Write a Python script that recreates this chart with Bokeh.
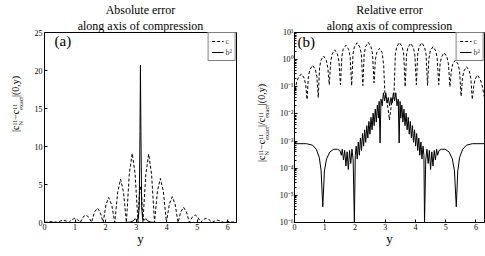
import math
from bokeh.plotting import figure
from bokeh.layouts import row
from bokeh.models import Label, FixedTicker, CustomJSTickFormatter, Range1d, Title, Div
from bokeh.embed import file_html
from bokeh.resources import INLINE

# ---------------- data ----------------
x_ticks = [0, 1, 2, 3, 4, 5, 6]
abs_y_ticks = [0, 5, 10, 15, 20, 25]
rel_y_ticks = [1e-6, 1e-5, 1e-4, 1e-3, 1e-2, 1e-1, 1e0, 1e1]

# (a) absolute error, series "c" (dashed)
abs_c_x = [0.0, 0.12, 0.24, 0.34, 0.43, 0.52, 0.61, 0.71, 0.80, 0.895,
           0.99, 1.08, 1.17, 1.26, 1.35, 1.45, 1.54, 1.635, 1.73, 1.825,
           1.92, 2.01, 2.10, 2.20, 2.30, 2.395, 2.49, 2.585, 2.68, 2.775,
           2.87, 2.965, 3.06, 3.10, 3.14, 3.18, 3.22, 3.315, 3.41, 3.505,
           3.60, 3.695, 3.79, 3.89, 3.99, 4.085, 4.18, 4.275, 4.37, 4.46,
           4.55, 4.645, 4.74, 4.835, 4.93, 5.02, 5.11, 5.20, 5.29, 5.385,
           5.48, 5.575, 5.67, 5.765, 5.86, 5.95, 6.04, 6.16, 6.2832]
abs_c_y = [0.02, 0.08, 0.12, 0.08, 0.01, 0.2, 0.3, 0.2, 0.01, 0.38,
           0.55, 0.38, 0.01, 0.7, 1.0, 0.7, 0.01, 1.35, 1.9, 1.35,
           0.01, 2.3, 3.3, 2.3, 0.01, 4.0, 5.7, 4.0, 0.02, 6.4,
           9.1, 6.4, 0.05, 3.5, 4.8, 3.5, 0.05, 6.3, 9.0, 6.3,
           0.02, 4.1, 5.8, 4.1, 0.01, 2.4, 3.4, 2.4, 0.01, 1.4,
           2.0, 1.4, 0.01, 0.7, 1.0, 0.7, 0.01, 0.38, 0.55, 0.38,
           0.01, 0.2, 0.3, 0.2, 0.01, 0.08, 0.12, 0.06, 0.02]

# (a) absolute error, series "b^2" (solid)
abs_b_x = [0.0, 2.6, 2.8, 2.9, 2.97, 3.02, 3.07, 3.10, 3.125, 3.14,
           3.155, 3.18, 3.21, 3.26, 3.31, 3.38, 3.48, 3.68, 6.2832]
abs_b_y = [0.0, 0.0, 0.05, 0.2, 0.5, 0.3, 0.6, 2.0, 12.0, 20.7,
           12.0, 2.0, 0.6, 0.3, 0.5, 0.2, 0.05, 0.0, 0.0]

# (b) relative error, series "c" (dashed)
rel_c_x = [0.0, 0.07, 0.13, 0.23, 0.32, 0.37, 0.415,
           0.46, 0.51, 0.60, 0.69, 0.74, 0.785,
           0.83, 0.875, 0.96, 1.05, 1.10, 1.15,
           1.20, 1.245, 1.33, 1.42, 1.47, 1.52,
           1.565, 1.61, 1.70, 1.79, 1.84, 1.89,
           1.935, 1.98, 2.07, 2.16, 2.21, 2.26,
           2.305, 2.35, 2.44, 2.53, 2.58, 2.63,
           2.675, 2.72, 2.81, 2.90, 2.95, 2.99,
           3.06, 3.14, 3.22, 3.29,
           3.335, 3.38, 3.47, 3.56, 3.61, 3.66,
           3.705, 3.75, 3.84, 3.93, 3.98, 4.03,
           4.075, 4.12, 4.21, 4.30, 4.35, 4.40,
           4.445, 4.49, 4.58, 4.67, 4.72, 4.77,
           4.815, 4.86, 4.95, 5.04, 5.09, 5.14,
           5.185, 5.23, 5.32, 5.41, 5.46, 5.51,
           5.555, 5.60, 5.69, 5.78, 5.83, 5.88,
           5.925, 5.97, 6.05, 6.14, 6.20, 6.2832]
rel_c_y = [0.05, 0.15, 0.22, 0.3, 0.21, 0.12, 0.034,
           0.24, 0.43, 0.62, 0.43, 0.24, 0.04,
           0.52, 0.95, 1.36, 0.95, 0.52, 0.12,
           0.87, 1.6, 2.3, 1.6, 0.87, 0.12,
           1.3, 2.4, 3.4, 2.4, 1.3, 0.11,
           1.6, 2.9, 4.2, 2.9, 1.6, 0.11,
           1.6, 3.0, 4.3, 3.0, 1.6, 0.14,
           1.0, 1.8, 2.6, 1.8, 0.6, 0.05,
           0.03, 0.006, 0.03, 0.05,
           1.6, 3.0, 4.3, 3.0, 1.6, 0.1,
           1.5, 2.8, 4.0, 2.8, 1.5, 0.12,
           1.6, 2.9, 4.2, 2.9, 1.6, 0.11,
           1.1, 2.1, 3.0, 2.1, 1.1, 0.12,
           0.7, 1.25, 1.8, 1.25, 0.7, 0.1,
           0.37, 0.68, 0.97, 0.68, 0.37, 0.045,
           0.21, 0.38, 0.55, 0.38, 0.21, 0.034,
           0.1, 0.19, 0.27, 0.19, 0.12, 0.04]

# (b) relative error, series "b^2" (solid)
rel_b_x = [0.00, 0.40, 0.60, 0.72, 0.82, 0.88, 0.935, 0.99, 1.06, 1.17,
           1.30, 1.42, 1.50, 1.55, 1.58, 1.62, 1.66, 1.70, 1.74, 1.78,
           1.82, 1.86, 1.90, 1.94, 1.98,
           2.01, 2.04, 2.075, 2.11, 2.145, 2.18, 2.215, 2.25, 2.285, 2.32,
           2.355, 2.39, 2.425, 2.46, 2.495, 2.53, 2.565, 2.60, 2.635, 2.67,
           2.705, 2.74, 2.775, 2.80, 2.83,
           2.86, 2.90, 2.94, 2.98, 3.02, 3.06, 3.10, 3.145, 3.19, 3.23,
           3.27, 3.31, 3.35, 3.39, 3.43, 3.46,
           3.49, 3.515, 3.55, 3.585, 3.62, 3.655, 3.69, 3.725, 3.76, 3.795,
           3.83, 3.865, 3.90, 3.935, 3.97, 4.005, 4.04, 4.075, 4.11, 4.145,
           4.18, 4.215, 4.25, 4.28, 4.30,
           4.34, 4.38, 4.42, 4.46, 4.50, 4.54, 4.58, 4.62, 4.66, 4.70,
           4.73, 4.78, 4.86, 4.98, 5.11, 5.22, 5.29, 5.35, 5.40, 5.46,
           5.56, 5.68, 5.88, 6.2832]
rel_b_y = [8e-4, 8e-4, 7e-4, 5e-4, 2.5e-4, 8e-5, 3.8e-6, 8e-5, 2.2e-4, 4e-4,
           5e-4, 5e-4, 4.5e-4, 3e-4, 5e-4, 2e-4, 4.5e-4, 1.2e-4, 4e-4, 9e-5,
           4.5e-4, 1.5e-4, 5e-4, 2e-4, 1e-6,
           3e-4, 6.5e-4, 2.2e-4, 9.2e-4, 3e-4, 1.3e-3, 4.5e-4, 1.9e-3, 6.5e-4, 2.6e-3,
           9e-4, 3.7e-3, 1.3e-3, 5.3e-3, 1.8e-3, 7.5e-3, 2.6e-3, 1.07e-2, 3.7e-3, 1.5e-2,
           5e-3, 2.1e-2, 7e-3, 2.9e-2, 8.5e-4,
           3.5e-2, 2e-2, 6e-2, 3e-2, 6e-2, 2.5e-2, 4e-2, 2e-2, 4e-2, 2.5e-2,
           6e-2, 3e-2, 6e-2, 2e-2, 3.5e-2, 8.5e-4,
           2.9e-2, 7e-3, 2.1e-2, 5e-3, 1.5e-2, 3.7e-3, 1.07e-2, 2.6e-3, 7.5e-3, 1.8e-3,
           5.3e-3, 1.3e-3, 3.7e-3, 9e-4, 2.6e-3, 6.5e-4, 1.9e-3, 4.5e-4, 1.3e-3, 3e-4,
           9.2e-4, 2.2e-4, 6.5e-4, 3e-4, 1e-6,
           2e-4, 5e-4, 1.5e-4, 4.5e-4, 9e-5, 4e-4, 1.2e-4, 4.5e-4, 2e-4, 5e-4,
           3e-4, 4.5e-4, 5e-4, 5e-4, 4e-4, 2.2e-4, 8e-5, 3.8e-6, 8e-5, 2.5e-4,
           5e-4, 7e-4, 8e-4, 8e-4]

titles_a = ["Absolute error", "along axis of compression"]
titles_b = ["Relative error", "along axis of compression"]

# ---------------- helpers ----------------
SERIF = "Liberation Serif"
TWO_PI = 2 * math.pi
H = 248


def style(p, title_lines):
    p.background_fill_color = "white"
    p.border_fill_color = "white"
    p.outline_line_color = "black"
    p.outline_line_width = 1
    p.xgrid.visible = False
    p.ygrid.visible = False
    for ax in (p.xaxis[0], p.yaxis[0]):
        ax.axis_line_color = "black"
        ax.major_tick_in = 3
        ax.major_tick_out = 0
        ax.minor_tick_in = 0
        ax.minor_tick_out = 0
        ax.major_label_text_font = SERIF
        ax.major_label_text_font_size = "8px"
        ax.major_label_text_color = "black"
        ax.major_label_standoff = 2
    p.xaxis.ticker = FixedTicker(ticks=x_ticks)
    p.xaxis.major_label_standoff = 1
    p.xaxis.axis_label = "y"
    p.xaxis.axis_label_text_font = SERIF
    p.xaxis.axis_label_text_font_size = "13px"
    p.xaxis.axis_label_text_font_style = "normal"
    p.xaxis.axis_label_text_color = "black"
    p.xaxis.axis_label_standoff = -2
    p.title.text = title_lines[0]
    extra = Title(text=title_lines[1])
    for t in (p.title, extra):
        t.align = "center"
        t.text_font = SERIF
        t.text_font_size = "12px"
        t.text_font_style = "normal"
        t.text_color = "black"
        t.standoff = 0
    p.add_layout(extra, "above")


def tag(p, x, y, text):
    p.add_layout(Label(x=x, y=y, text=text, text_font=SERIF,
                       text_font_size="15px", text_color="black"))


def supsub(sup, sub):
    return ('<span style="display:inline-block;vertical-align:-4px;font-size:6px;'
            'line-height:6px;text-align:left;">'
            f'<span style="display:block;">{sup}</span>'
            f'<span style="display:block;">{sub}</span></span>')


def ylabel_div(content, width, left, bottom):
    # text starts at (left, bottom) and runs upwards
    html = (f'<div style="position:relative;width:{width}px;height:{H}px;">'
            f'<div style="position:absolute;left:{left}px;top:{bottom}px;'
            'transform-origin:0 0;transform:rotate(-90deg);white-space:nowrap;'
            "font-family:'Liberation Serif';font-size:10px;line-height:10px;color:black;\">"
            f'{content}</div></div>')
    return Div(text=html, width=width, height=H)


# ---------------- (a) absolute error ----------------
p1 = figure(width=217, height=H, output_backend="svg", toolbar_location=None,
            x_range=Range1d(0, TWO_PI), y_range=Range1d(0, 25),
            min_border_left=14, min_border_right=11,
            min_border_top=30, min_border_bottom=24)
style(p1, titles_a)
p1.yaxis.ticker = FixedTicker(ticks=abs_y_ticks)
p1.line(abs_c_x, abs_c_y, line_color="black", line_width=1, line_dash="3 2",
        legend_label="c")
p1.line(abs_b_x, abs_b_y, line_color="black", line_width=1, legend_label="b²")

# ---------------- (b) relative error ----------------
p2 = figure(width=213, height=H, output_backend="svg", toolbar_location=None,
            x_range=Range1d(0, TWO_PI), y_range=Range1d(1e-6, 10),
            y_axis_type="log",
            min_border_left=18, min_border_right=5,
            min_border_top=30, min_border_bottom=24)
style(p2, titles_b)
minor = [m * 10.0 ** e for e in range(-6, 1) for m in range(2, 10)]
p2.yaxis.ticker = FixedTicker(ticks=rel_y_ticks, minor_ticks=minor)
p2.yaxis.minor_tick_in = 2
p2.yaxis.major_label_standoff = 1
p2.yaxis.formatter = CustomJSTickFormatter(code="""
const e = Math.round(Math.log10(tick));
const sup = {'-':'\u207b','0':'\u2070','1':'\u00b9','2':'\u00b2','3':'\u00b3',
             '4':'\u2074','5':'\u2075','6':'\u2076','7':'\u2077','8':'\u2078','9':'\u2079'};
return '10' + String(e).split('').map(c => sup[c]).join('');
""")
p2.line(rel_c_x, rel_c_y, line_color="black", line_width=1, line_dash="3 2",
        legend_label="c")
p2.line(rel_b_x, rel_b_y, line_color="black", line_width=1, legend_label="b²")

for p in (p1, p2):
    lg = p.legend[0]
    lg.location = "top_right"
    lg.margin = 0
    lg.padding = 3
    lg.spacing = 1
    lg.border_line_color = "black"
    lg.border_line_width = 1
    lg.background_fill_color = "white"
    lg.background_fill_alpha = 1
    lg.label_text_font = SERIF
    lg.label_text_font_size = "8px"
    lg.label_height = 10
    lg.label_width = 6
    lg.glyph_height = 10
    lg.glyph_width = 12
    lg.label_standoff = 2

tag(p1, 0.33, 22.8, "(a)")
tag(p2, 0.1, 2.2, "(b)")

lab_a = "|c" + supsub("11", "N") + "−c" + supsub("11", "exact") + "|(0,y)"
lab_b = ("|c" + supsub("11", "N") + "−c" + supsub("11", "exact") + "|/c"
         + supsub("11", "exact") + "|(0,y)")
d1 = ylabel_div(lab_a, 20, 6, 127)
d2 = ylabel_div(lab_b, 19, 5, 157)

layout = row(d1, p1, d2, p2)
open("out.html", "w").write(file_html(layout, INLINE))
